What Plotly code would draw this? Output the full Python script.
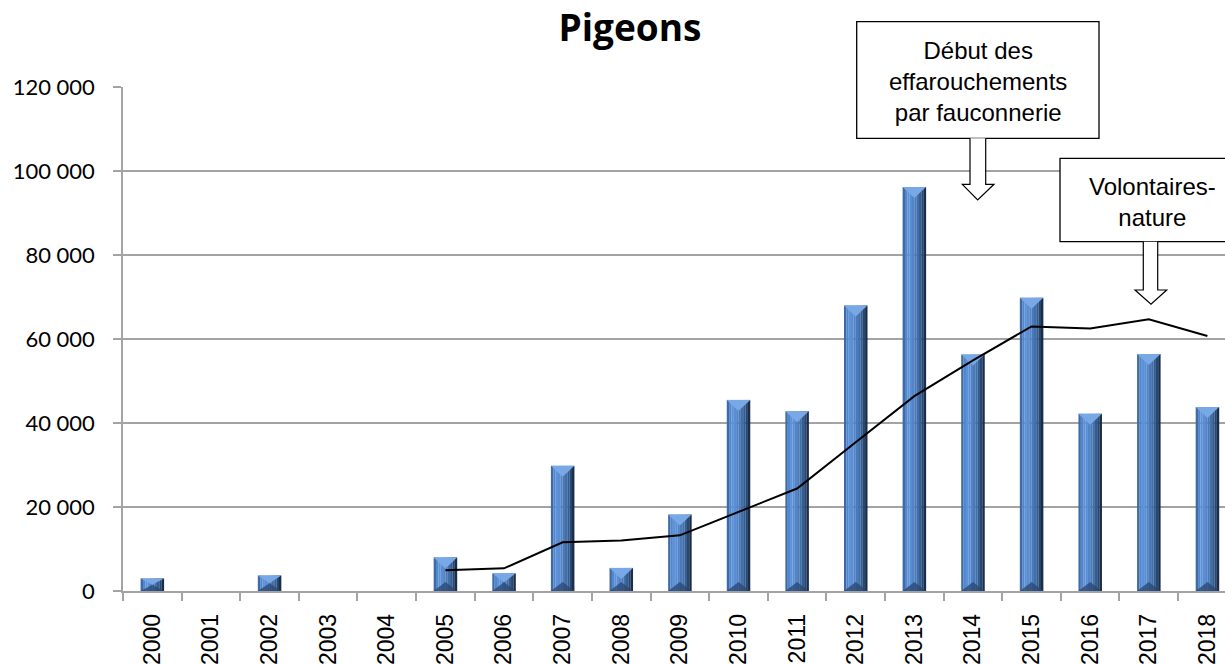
import plotly.graph_objects as go

# ---- data ----
years = [str(y) for y in range(2000, 2019)]
counts = [3000, None, 3700, None, None, 8000, 4200, 29800, 5500, 18200,
          45500, 42800, 68000, 96200, 56300, 69800, 42200, 56400, 43800]
trend_years = [str(y) for y in range(2005, 2019)]
trend = [4950, 5400, 11600, 12050, 13250, 18800, 24400, 35400, 46400,
         54900, 63000, 62500, 64700, 60700]
y_ticks = [0, 20000, 40000, 60000, 80000, 100000, 120000]

title_text = "Pigeons"
note1 = "Début des<br>effarouchements<br>par fauconnerie"
note2 = "Volontaires-<br>nature"

xpos = list(range(len(years)))
trend_x = [years.index(y) for y in trend_years]

# ---- layout geometry ----
W, H = 1225, 664
ML, MR, MT, MB = 123, 0, 87, 73
PW, PH = W - ML - MR, H - MT - MB
XR = [-0.5, 18.3]
YMAX = 120000
BAR_W = 0.4
u = YMAX / PH  # data units per pixel on y

def px(x):
    return (x - ML) / PW

def py(y):
    return (H - MB - y) / PH

grid = "#a3a3a3"

fig = go.Figure()

# shaded (cylinder-like) bars built from several narrow slices
slice_colors = ["#3f6aa6", "#5287cc", "#5c92d9", "#5a8dd3", "#5384c8",
                "#4a79b9", "#4070a8", "#355d92", "#284872", "#1a2d4a"]
n = len(slice_colors)
sw = BAR_W / n
for k, c in enumerate(slice_colors):
    fig.add_trace(go.Bar(
        x=xpos, y=counts, width=sw * 1.03, offset=-BAR_W / 2 + k * sw,
        marker=dict(color=c, line=dict(width=0)),
        showlegend=False, hoverinfo="skip"))

# bevel facets (top light, bottom dark) as filled polygons
top_x, top_y, bot_x, bot_y = [], [], [], []
for i, v in zip(xpos, counts):
    if not v:
        continue
    h_px = v / u
    t = min(11, h_px / 2)
    tb = min(9, h_px / 2)
    top_x += [i - BAR_W / 2, i + BAR_W / 2, i, i - BAR_W / 2, None]
    top_y += [v, v, v - t * u, v, None]
    bot_x += [i - BAR_W / 2, i + BAR_W / 2, i, i - BAR_W / 2, None]
    bot_y += [0, 0, tb * u, 0, None]

fig.add_trace(go.Scatter(x=top_x, y=top_y, mode="lines", fill="toself",
                         fillcolor="#79a8e6", line=dict(width=0),
                         showlegend=False, hoverinfo="skip"))
fig.add_trace(go.Scatter(x=bot_x, y=bot_y, mode="lines", fill="toself",
                         fillcolor="rgba(40,70,112,0.75)", line=dict(width=0),
                         showlegend=False, hoverinfo="skip"))

# trend line
fig.add_trace(go.Scatter(
    x=trend_x, y=trend, mode="lines",
    line=dict(color="black", width=2), showlegend=False, hoverinfo="skip"))

shapes = []
# annotation boxes
box1 = (856.7, 21.7, 1099, 138.3)
box2 = (1060, 158.3, 1244, 241.7)
for (x0, y0, x1, y1) in (box1, box2):
    shapes.append(dict(type="rect", xref="paper", yref="paper",
                       x0=px(x0), x1=px(x1), y0=py(y1), y1=py(y0),
                       fillcolor="white", line=dict(color="black", width=1.3),
                       layer="above"))

def arrow(sx0, sx1, ytop, yneck, hx0, hx1, tipx, tipy):
    pts = [(sx0, ytop), (sx0, yneck), (hx0, yneck), (tipx, tipy),
           (hx1, yneck), (sx1, yneck), (sx1, ytop)]
    p = "M " + " L ".join(f"{px(a):.5f},{py(b):.5f}" for a, b in pts)
    return dict(type="path", xref="paper", yref="paper", path=p,
                fillcolor="white", line=dict(color="black", width=1.2),
                layer="above")

shapes.append(arrow(970, 985.7, 138.3, 184.3, 962.3, 994, 977.7, 200))
shapes.append(arrow(1143.3, 1157.7, 241.7, 290, 1135, 1166.7, 1151, 304.3))

annotations = [
    dict(text=note1, xref="paper", yref="paper", x=px(977.8), y=py(81),
         showarrow=False, xanchor="center", yanchor="middle",
         font=dict(family="Liberation Sans, Arial", size=24, color="black")),
    dict(text=note2, xref="paper", yref="paper", x=px(1152), y=py(202),
         showarrow=False, xanchor="center", yanchor="middle",
         font=dict(family="Liberation Sans, Arial", size=24, color="black")),
]

fig.update_layout(
    width=W, height=H,
    margin=dict(l=ML, r=MR, t=MT, b=MB, pad=0),
    paper_bgcolor="white", plot_bgcolor="white",
    barmode="overlay",
    separators=", ",
    title=dict(text=f"<b>{title_text}</b>", x=630 / W, xref="container",
               xanchor="center", y=1 - 28 / H, yref="container",
               yanchor="middle",
               font=dict(family="Open Sans", size=37, color="black")),
    shapes=shapes, annotations=annotations,
    xaxis=dict(range=XR, tickvals=xpos, ticktext=years,
               ticks="outside", ticklen=8, tickcolor="rgba(0,0,0,0)",
               minor=dict(tickvals=[i - 0.5 for i in range(len(years) + 1)],
                          ticks="outside", ticklen=8, tickcolor=grid,
                          tickwidth=1.5, showgrid=False),
               showline=True, linecolor=grid, linewidth=1.5, showgrid=False,
               zeroline=False, tickangle=-90, ticklabelstandoff=4,
               tickfont=dict(family="Liberation Sans, Arial", size=23,
                             color="black")),
    yaxis=dict(range=[0, YMAX], tickvals=y_ticks, tickformat=",d",
               showgrid=True, gridcolor=grid, gridwidth=1.5, zeroline=False,
               showline=True, linecolor=grid, linewidth=1.5, ticks="outside",
               ticklen=8, tickcolor=grid, tickwidth=1.5,
               ticklabelstandoff=14,
               tickfont=dict(family="Lato", size=22, color="black")),
)

fig.write_html("out.html",
               config={"displayModeBar": False},
               post_script="document.body.style.margin='0px';"
                           "document.body.style.overflow='hidden';")
